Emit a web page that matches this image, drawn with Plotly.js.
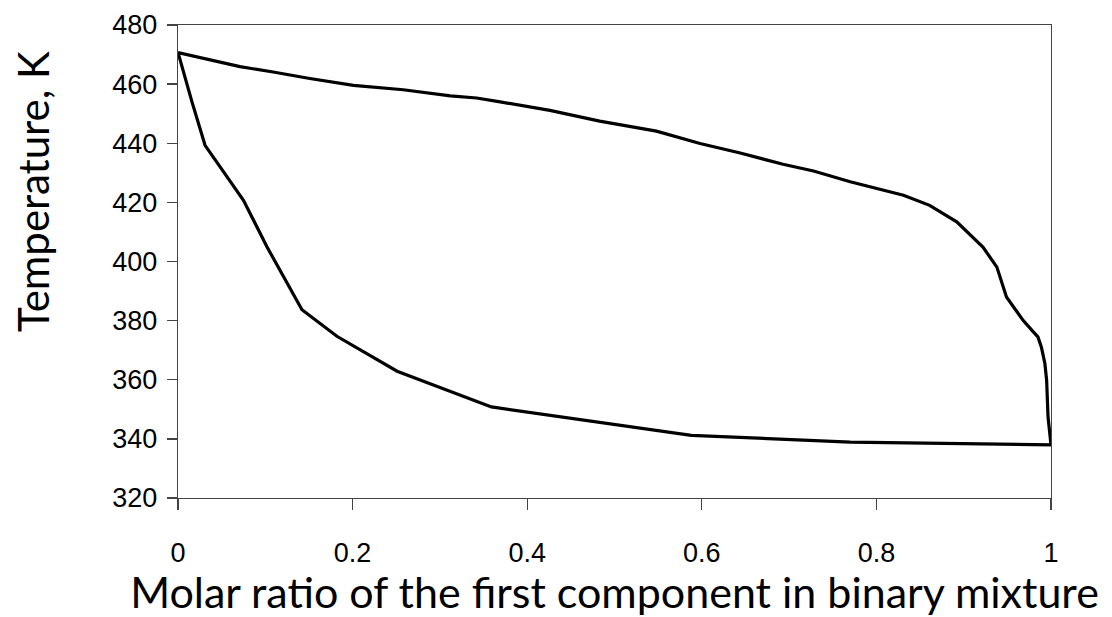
<!DOCTYPE html>
<html>
<head>
<meta charset="utf-8">
<script src="https://cdn.plot.ly/plotly-3.0.1.min.js"></script>
<style>html,body{margin:0;padding:0;background:#fff;}#chart{width:1112px;height:617px;}</style>
</head>
<body>
<div id="chart"></div>
<script>
// Upper curve (vapour / dew line)
const upperX = [0, 0.037, 0.071, 0.109, 0.151, 0.201, 0.258, 0.312, 0.342, 0.369, 0.426, 0.483, 0.548, 0.598, 0.644, 0.693, 0.728, 0.770, 0.831, 0.861, 0.892, 0.922, 0.938, 0.949, 0.957, 0.968, 0.980, 0.985, 0.989, 0.993, 0.995, 0.9966, 1.0];
const upperT = [470.7, 468.3, 465.9, 464.1, 461.9, 459.6, 458.1, 456.0, 455.3, 454.0, 451.1, 447.5, 444.1, 439.9, 436.7, 432.9, 430.6, 427.0, 422.4, 419.0, 413.4, 404.9, 398.1, 388.0, 384.6, 380.1, 376.1, 374.5, 371.0, 365.5, 359.8, 347.4, 338.0];
// Lower curve (liquid / bubble line)
const lowerX = [0, 0.008, 0.016, 0.031, 0.075, 0.102, 0.142, 0.182, 0.251, 0.359, 0.588, 0.770, 1.0];
const lowerT = [470.7, 462.0, 454.0, 439.3, 420.7, 404.9, 383.7, 374.7, 362.9, 350.8, 341.2, 338.9, 338.0];
const xTicks = [0, 0.2, 0.4, 0.6, 0.8, 1];
const xTickText = ['0', '0.2', '0.4', '0.6', '0.8', '1'];
const yTicks = [320, 340, 360, 380, 400, 420, 440, 460, 480];
const xTitle = 'Molar ratio of the first component in binary mixture';
const yTitle = 'Temperature, K';

const lineStyle = {color: '#000', width: 3.2};
const traces = [
  {x: upperX, y: upperT, mode: 'lines', line: lineStyle, hoverinfo: 'skip'},
  {x: lowerX, y: lowerT, mode: 'lines', line: lineStyle, hoverinfo: 'skip'}
];
const tickFont = {family: 'Liberation Sans, Arial, sans-serif', size: 27, color: '#000'};
const titleFont = {family: 'Lato, Open Sans, sans-serif', size: 43, color: '#000'};
const layout = {
  width: 1112, height: 617,
  margin: {l: 178, r: 61, t: 25, b: 119},
  paper_bgcolor: '#fff', plot_bgcolor: '#fff',
  showlegend: false,
  xaxis: {
    range: [0, 1], tickvals: xTicks, ticktext: xTickText,
    showgrid: false, zeroline: false,
    showline: true, linecolor: '#444', linewidth: 1.3, mirror: true,
    ticks: 'outside', ticklen: 11, tickcolor: '#444', tickwidth: 1.3,
    tickfont: tickFont, ticklabelstandoff: 19,
    title: {text: xTitle, font: titleFont, standoff: 4}
  },
  yaxis: {
    range: [320, 480], tickvals: yTicks,
    showgrid: false, zeroline: false,
    showline: true, linecolor: '#444', linewidth: 1.3, mirror: true,
    ticks: 'outside', ticklen: 10, tickcolor: '#444', tickwidth: 1.3,
    tickfont: tickFont, ticklabelstandoff: 4
  },
  annotations: [{
    text: yTitle, font: {family: 'Lato, Open Sans, sans-serif', size: 42, color: '#000'},
    xref: 'paper', yref: 'paper', x: -0.166, y: 0.647,
    xanchor: 'center', yanchor: 'middle', textangle: -90, showarrow: false
  }]
};
Plotly.newPlot('chart', traces, layout, {staticPlot: true, displayModeBar: false});
</script>
</body>
</html>
